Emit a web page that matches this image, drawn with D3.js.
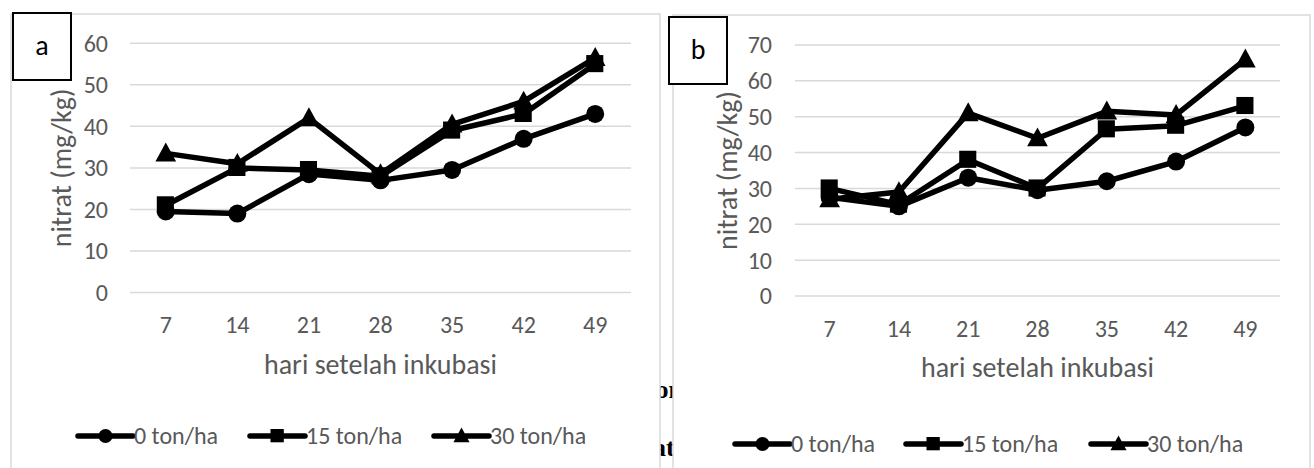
<!DOCTYPE html>
<html><head><meta charset="utf-8">
<script src="https://cdn.jsdelivr.net/npm/d3@7"></script>
<style>
html,body{margin:0;padding:0;background:#fff;}
svg{display:block;}
</style></head>
<body>
<svg id="chart" width="1314" height="468"></svg>
<script>
// ---- data ----
const days = ["7","14","21","28","35","42","49"];
const seriesNames = ["0 ton/ha","15 ton/ha","30 ton/ha"];
const markerTypes = ["circle","square","triangle"];
const panelLabels = ["a","b"];
const a0  = [19.5, 19, 28.5, 27, 29.5, 37, 43];
const a15 = [21, 30, 29.5, 28, 39, 43, 55];
const a30 = [33.5, 31, 42, 28.5, 40.5, 46, 56.5];
const b0  = [27.5, 25, 33, 29.5, 32, 37.5, 47];
const b15 = [30, 25.5, 38, 30, 46.5, 47.5, 53];
const b30 = [27, 29, 51, 44, 51.5, 50.5, 66];
const aTicks = [0,10,20,30,40,50,60];
const bTicks = [0,10,20,30,40,50,60,70];
const xTitle = "hari setelah inkubasi";
const yTitle = "nitrat (mg/kg)";

const FONT = "Carlito, Lato, sans-serif";
const GRAY = "#595959";
const svg = d3.select("#chart");

// fragments of background document text visible in the gap between panels
svg.append("defs").append("clipPath").attr("id","gapclip")
  .append("rect").attr("x",660).attr("y",0).attr("width",13).attr("height",468);
const frag = svg.append("g").attr("clip-path","url(#gapclip)")
  .attr("font-family","'Liberation Serif', 'Times New Roman', serif")
  .attr("font-size",26).attr("font-weight","bold").attr("fill","#000");
frag.append("text").attr("x",655.5).attr("y",398).text("on");
frag.append("text").attr("x",653).attr("y",456).text("ati");

function symbol(g, type, x, y, s){
  if(type==="circle"){
    g.append("circle").attr("cx",x).attr("cy",y).attr("r",s/2).attr("fill","#000");
  } else if(type==="square"){
    g.append("rect").attr("x",x-s/2).attr("y",y-s/2).attr("width",s*0.95).attr("height",s*0.95).attr("fill","#000");
  } else {
    const w = s*1.15, h = s;
    g.append("path").attr("d",`M${x},${y-h*0.6}L${x+w/2},${y+h*0.45}L${x-w/2},${y+h*0.45}Z`).attr("fill","#000");
  }
}

function panel(cfg){
  const g = svg.append("g");
  g.append("rect").attr("x",cfg.fx).attr("y",cfg.fy).attr("width",cfg.fw).attr("height",520)
    .attr("fill","#fff").attr("stroke","#d9d9d9").attr("stroke-width",1.5);

  const x = d3.scaleBand().domain(days).range([cfg.x0,cfg.x1]);
  const y = d3.scaleLinear().domain([0, d3.max(cfg.ticks)]).range([cfg.y0,cfg.y1]);

  g.append("g").selectAll("line").data(cfg.ticks).join("line")
    .attr("x1",cfg.x0).attr("x2",cfg.x1)
    .attr("y1",d=>y(d)).attr("y2",d=>y(d))
    .attr("stroke","#d9d9d9").attr("stroke-width",1.5);

  const ya = g.append("g").attr("transform",`translate(${cfg.x0},0)`)
    .call(d3.axisLeft(y).tickValues(cfg.ticks).tickSize(0).tickPadding(cfg.x0-cfg.ylabR));
  ya.select(".domain").remove();
  ya.selectAll("text").attr("font-family",FONT).attr("font-size",24).attr("fill",GRAY).attr("dy","0.33em");

  const xa = g.append("g").attr("transform",`translate(0,${cfg.y0})`)
    .call(d3.axisBottom(x).tickSize(0));
  xa.select(".domain").remove();
  xa.selectAll("text").attr("font-family",FONT).attr("font-size",24).attr("fill",GRAY)
    .attr("y",cfg.xpad).attr("dy","0.33em");

  g.append("text").attr("x",(cfg.x0+cfg.x1)/2).attr("y",cfg.xtY)
    .attr("text-anchor","middle").attr("font-family",FONT).attr("font-size",28).attr("fill",GRAY)
    .text(xTitle);
  g.append("text").attr("transform",`translate(${cfg.ytX},${(cfg.y0+cfg.y1)/2}) rotate(-90)`)
    .attr("text-anchor","middle").attr("dy","0.33em").attr("font-family",FONT).attr("font-size",28).attr("fill",GRAY)
    .text(yTitle);

  const line = d3.line().x((d,i)=>x(days[i])+x.bandwidth()/2).y(d=>y(d));
  cfg.series.forEach((s,si)=>{
    const sg = g.append("g");
    sg.append("path").datum(s).attr("d",line).attr("fill","none")
      .attr("stroke","#000").attr("stroke-width",5.5).attr("stroke-linejoin","round");
    s.forEach((v,i)=>symbol(sg, markerTypes[si], x(days[i])+x.bandwidth()/2, y(v), 18));
  });

  seriesNames.forEach((n,i)=>{
    const lx = cfg.legX[i], ly = cfg.legY;
    const lg = g.append("g");
    lg.append("line").attr("x1",lx).attr("x2",lx+55).attr("y1",ly).attr("y2",ly)
      .attr("stroke","#000").attr("stroke-width",5.5).attr("stroke-linecap","round");
    symbol(lg, markerTypes[i], lx+27.5, ly, 14);
    lg.append("text").attr("x",lx+56).attr("y",ly).attr("dy","0.33em")
      .attr("font-family",FONT).attr("font-size",24).attr("fill",GRAY).text(n);
  });

  g.append("rect").attr("x",cfg.bx).attr("y",cfg.by).attr("width",58).attr("height",67)
    .attr("fill","#fff").attr("stroke","#000").attr("stroke-width",2);
  g.append("text").attr("x",cfg.bx+29).attr("y",cfg.by+33).attr("dy","0.33em")
    .attr("text-anchor","middle").attr("font-family",FONT).attr("font-size",28).attr("fill","#000")
    .text(cfg.label);
}

panel({fx:11, fy:14, fw:649, x0:130, x1:631, y0:292.5, y1:43.3, ticks:aTicks, ylabR:108,
  xpad:33, xtY:374, ytX:62, series:[a0,a15,a30], legX:[78,250,434], legY:436,
  bx:13, by:13, label:panelLabels[0]});
panel({fx:673, fy:15, fw:637, x0:795, x1:1280, y0:296, y1:45, ticks:bTicks, ylabR:772,
  xpad:33.5, xtY:377, ytX:728, series:[b0,b15,b30], legX:[735,906,1091], legY:444,
  bx:669, by:17, label:panelLabels[1]});
</script>
</body></html>
